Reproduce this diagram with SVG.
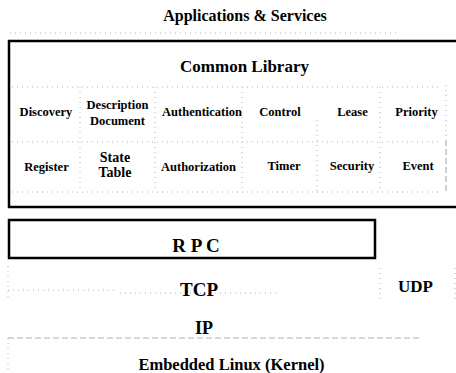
<svg xmlns="http://www.w3.org/2000/svg" width="456" height="373" viewBox="0 0 456 373">
<style>
text{font-family:"Liberation Serif","Times New Roman",serif;font-weight:bold;fill:#000;text-anchor:middle}
.cell{font-size:12.5px}
.big{font-size:14px}
.box{fill:none;stroke:#000;stroke-width:2.5}
.dot{fill:none;stroke:#b4b4b4;stroke-width:1;stroke-dasharray:1 4}
.gray{fill:none;stroke:#b0b0b0;stroke-width:1.2;stroke-dasharray:6 3}
</style>
<rect width="456" height="373" fill="#fff"/>
<g id="connectors">
<path class="dot" d="M10 33H400"/>
<path class="dot" d="M12 87H440M12 142H440M12 192H440"/>
<path class="dot" d="M80 87V192M155 87V192M242 87V190M317 120V192M380 87V192"/>
<path class="gray" d="M446 140V192"/>
<path class="dot" d="M446 85V140"/>
<path class="dot" d="M8 266V300M8 290H115M120 293H280M380 268V300M455 268V300"/>
<path class="gray" d="M8 338H420"/>
<path class="dot" d="M8 338V373"/>
</g>
<g id="applications">
<text x="245" y="21" style="font-size:16px">Applications &amp; Services</text>
</g>
<g id="common-library">
<rect class="box" x="9" y="41" width="452" height="166"/>
<text x="244.5" y="72" style="font-size:17px">Common Library</text>
</g>
<g id="discovery"><text class="cell" x="46" y="116">Discovery</text></g>
<g id="description-document"><text class="cell" x="117.5" y="109">Description</text><text class="cell" x="117.5" y="125">Document</text></g>
<g id="authentication"><text class="cell" x="202" y="116">Authentication</text></g>
<g id="control"><text class="cell" x="280" y="116">Control</text></g>
<g id="lease"><text class="cell" x="352.5" y="116">Lease</text></g>
<g id="priority"><text class="cell" x="416.5" y="116">Priority</text></g>
<g id="register"><text class="cell" x="46.5" y="171">Register</text></g>
<g id="state-table"><text class="big" x="115" y="162">State</text><text class="big" x="115" y="177">Table</text></g>
<g id="authorization"><text class="cell" x="198.5" y="171">Authorization</text></g>
<g id="timer"><text class="cell" x="284" y="170">Timer</text></g>
<g id="security"><text class="cell" x="352" y="170">Security</text></g>
<g id="event"><text class="cell" x="418" y="170">Event</text></g>
<g id="rpc">
<rect class="box" x="9" y="220" width="366" height="38"/>
<text x="196" y="252" style="font-size:19px">R P C</text>
</g>
<g id="tcp"><text x="199" y="296" style="font-size:19px">TCP</text></g>
<g id="udp"><text x="415.5" y="292" style="font-size:17px">UDP</text></g>
<g id="ip"><text x="204" y="334" style="font-size:18px">IP</text></g>
<g id="kernel"><text x="231.5" y="370" style="font-size:16.5px">Embedded Linux (Kernel)</text></g>
</svg>
